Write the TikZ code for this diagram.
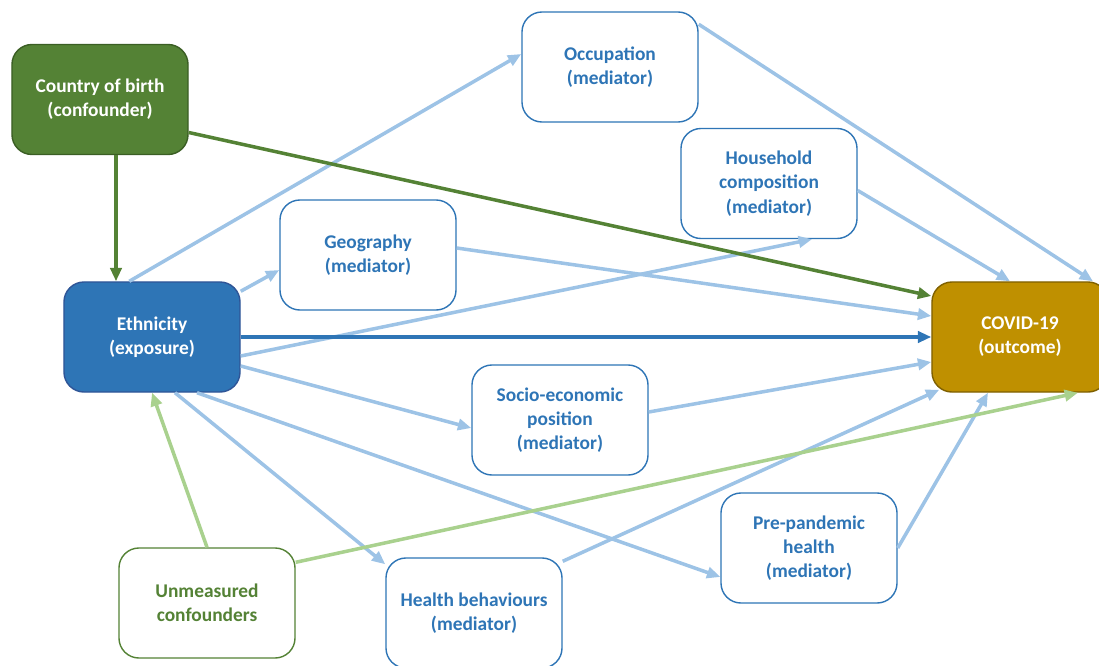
\documentclass[tikz,border=0pt]{standalone}
\usepackage{fontspec}
\setmainfont{Carlito}
\usepackage{tikz}
\usetikzlibrary{arrows.meta,calc}

\definecolor{medblue}{HTML}{2E75B6}
\definecolor{edgeblue}{HTML}{2F5597}
\definecolor{lightblue}{HTML}{9DC3E6}
\definecolor{darkgreen}{HTML}{548235}
\definecolor{edgegreen}{HTML}{3B5E24}
\definecolor{lightgreen}{HTML}{A9D18E}
\definecolor{gold}{HTML}{BF9000}
\definecolor{edgegold}{HTML}{7F6000}

\tikzset{
  box/.style={shape=rectangle, rounded corners=0.5cm, minimum width=4.4cm, minimum height=2.75cm,
    align=center, font=\fontsize{13.8}{17.2}\selectfont\bfseries, line width=1pt},
  mediator/.style={box, draw=medblue, fill=white, text=medblue},
  arr/.style={line width=2.5pt, -{Triangle[length=9.5pt,width=8pt]}},
  pathway/.style={arr, draw=lightblue, lightblue},
}

\begin{document}
\begin{tikzpicture}[x=0.025cm, y=-0.025cm]
\useasboundingbox (0,0) rectangle (1099,665);

\node[box, draw=edgegreen, fill=darkgreen, text=white](birth) at (100,99.5) {Country of birth\\(confounder)};
\node[box, draw=edgeblue, fill=medblue, text=white](ethn) at (152,337) {Ethnicity\\(exposure)};
\node[box, draw=edgegold, fill=gold, text=white](covid) at (1020,337) {COVID-19\\(outcome)};
\node[box, draw=darkgreen, fill=white, text=darkgreen](unmeas) at (207,603) {Unmeasured\\confounders};

\node[mediator](occup) at (610,67) {Occupation\\(mediator)};
\node[mediator](house) at (769,183.5) {Household\\composition\\(mediator)};
\node[mediator](geog) at (368,255) {Geography\\(mediator)};
\node[mediator](sep) at (560,420) {Socio-economic\\position\\(mediator)};
\node[mediator](prehealth) at (809,548) {Pre-pandemic\\health\\(mediator)};
\node[mediator](behav) at (474,613) {Health behaviours\\(mediator)};

\draw[pathway] ($(ethn.north west)+(66,0)$) -- ($(occup.west)+(0,-13)$);
\draw[pathway] ($(ethn.north east)+(0,10)$) -- ($(geog.west)+(0,15)$);
\draw[pathway] ($(ethn.east)+(0,19)$) -- ($(house.south)+(43,0)$);
\draw[pathway] ($(ethn.east)+(0,29)$) -- ($(sep.west)+(0,8)$);
\draw[pathway] ($(ethn.south)+(23,0)$) -- ($(behav.north west)+(0,7)$);
\draw[pathway] ($(ethn.south)+(45,0)$) -- ($(prehealth.west)+(0,29)$);

\draw[pathway] ($(occup.north east)+(0,13)$) -- ($(covid.north)+(73,0)$);
\draw[pathway] ($(house.east)+(0,7)$) -- ($(covid.north)+(-10,0)$);
\draw[pathway] ($(geog.east)+(0,-7)$) -- ($(covid.west)+(0,-21)$);
\draw[pathway] ($(sep.east)+(0,-8)$) -- ($(covid.west)+(0,25)$);
\draw[pathway] ($(behav.north east)+(0,4)$) -- ($(covid.south west)+(8,-3)$);
\draw[pathway] (prehealth.east) -- ($(covid.south)+(-32,0)$);

\draw[arr, draw=medblue, medblue] (ethn.east) -- (covid.west);

\draw[arr, draw=darkgreen, darkgreen] ($(birth.south)+(16,0)$) -- ($(ethn.north)+(-36,0)$);
\draw[arr, draw=darkgreen, darkgreen] ($(birth.east)+(0,33)$) -- ($(covid.west)+(0,-41)$);

\draw[arr, draw=lightgreen, lightgreen] (unmeas.north) -- (ethn.south);
\draw[arr, draw=lightgreen, lightgreen] ($(unmeas.north east)+(0,15)$) -- ($(covid.south)+(58,0)$);
\end{tikzpicture}
\end{document}
